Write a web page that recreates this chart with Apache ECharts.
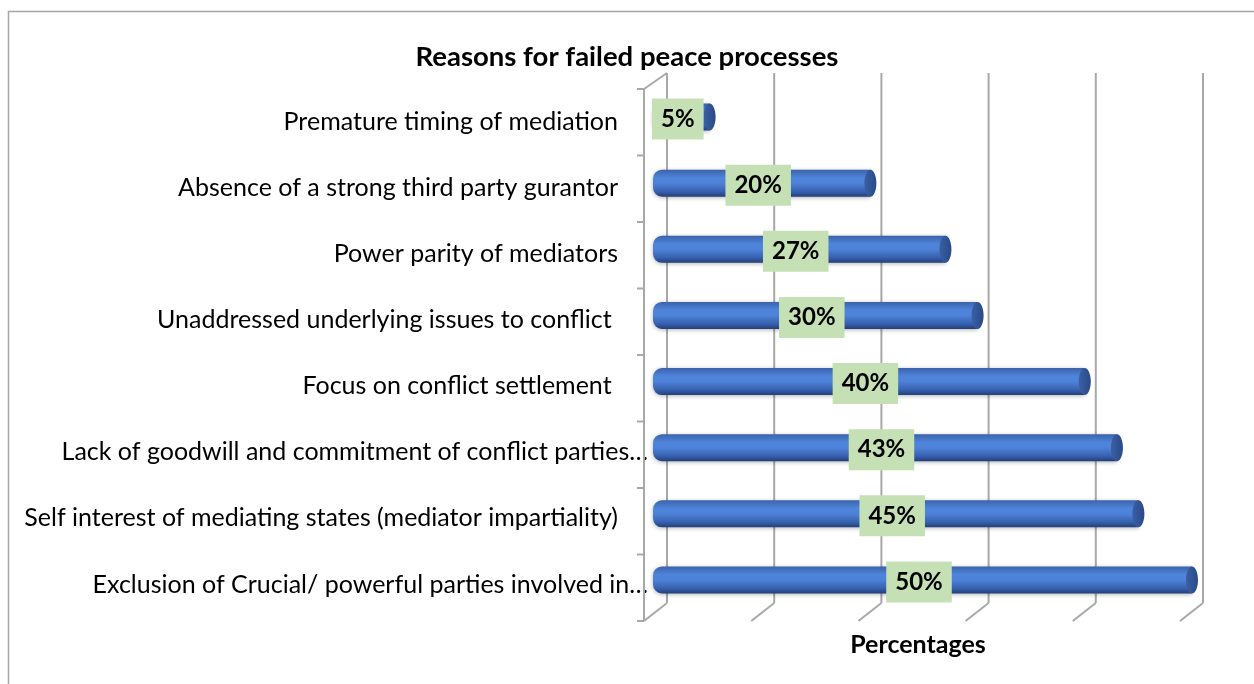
<!DOCTYPE html>
<html>
<head>
<meta charset="utf-8">
<script src="https://cdn.jsdelivr.net/npm/echarts@6/dist/echarts.min.js"></script>
<style>
html,body{margin:0;padding:0;background:#fff;}
#chart{width:1254px;height:684px;}
</style>
</head>
<body>
<div id="chart"></div>
<script>
const categories = [
  'Premature timing of mediation',
  'Absence of a strong third party gurantor',
  'Power parity of mediators',
  'Unaddressed underlying issues to conflict ',
  'Focus on conflict settlement ',
  'Lack of goodwill and commitment of conflict parties…',
  'Self interest of mediating states (mediator impartiality)',
  'Exclusion of Crucial/ powerful parties involved in…'
];
const values = [5, 20, 27, 30, 40, 43, 45, 50];
const gridTicks = [0, 10, 20, 30, 40, 50];
const titleText = 'Reasons for failed peace processes';
const xAxisName = 'Percentages';

const FONT = 'Lato';
const chart = echarts.init(document.getElementById('chart'), null, {renderer: 'canvas'});

const bodyGrad = () => new echarts.graphic.LinearGradient(0, 0, 0, 1, [
  {offset: 0, color: '#3b63ab'},
  {offset: 0.3, color: '#4e84da'},
  {offset: 0.5, color: '#4d82d8'},
  {offset: 0.8, color: '#3862b0'},
  {offset: 1, color: '#223f78'}
]);
const capGrad = () => new echarts.graphic.LinearGradient(0, 0, 1, 0, [
  {offset: 0, color: '#3a5fa3'},
  {offset: 1, color: '#2a4a88'}
]);

const option = {
  animation: false,
  backgroundColor: '#ffffff',
  title: {
    text: titleText,
    left: 'center',
    top: 38,
    padding: [5, 5, 5, 13],
    textStyle: {fontFamily: FONT, fontWeight: 'bold', fontSize: 27.5, color: '#000'}
  },
  grid: {left: 656, right: 62, top: 84, bottom: 71, containLabel: false},
  xAxis: {
    type: 'value', min: 0, max: 50, interval: 10,
    axisLabel: {show: false}, axisLine: {show: false}, axisTick: {show: false},
    splitLine: {show: false},
    name: xAxisName, nameLocation: 'middle', nameGap: 19,
    nameTextStyle: {fontFamily: FONT, fontWeight: 'bold', fontSize: 25, color: '#000', padding: [0, 12, 0, 0]}
  },
  yAxis: {
    type: 'category', inverse: true,
    data: categories,
    axisLine: {show: false}, axisTick: {show: false}, splitLine: {show: false},
    axisLabel: {
      margin: 8, fontFamily: FONT, fontSize: 25, color: '#000',
      formatter: v => (v.endsWith('…') ? '{t|' : '{n|') + v + '}',
      rich: {
        t: {fontFamily: FONT, fontSize: 25, color: '#000', padding: [9, 0, 0, 0]},
        n: {fontFamily: FONT, fontSize: 25, color: '#000', padding: [9, 30, 0, 0]}
      }
    }
  },
  series: [{
    type: 'custom',
    encode: {x: 0, y: 1},
    data: values.map((v, i) => [v, i]),
    renderItem: function (params, api) {
      const v = api.value(0), c = api.value(1);
      const p0 = api.coord([0, c]);
      const p1 = api.coord([v, c]);
      const bh = 27;
      const y = p0[1] - bh / 2;
      return {
        type: 'group',
        children: [
          {type: 'rect', shape: {x: p0[0] - 3, y: y, width: p1[0] - p0[0] + 3, height: bh, r: [9, 0, 0, 9]},
           style: {fill: bodyGrad(), shadowBlur: 4, shadowColor: 'rgba(0,0,0,0.3)', shadowOffsetY: 1}},
          {type: 'ellipse', shape: {cx: p1[0], cy: p0[1], rx: 6, ry: bh / 2},
           style: {fill: capGrad()}},
          {type: 'text', z2: 10,
           style: {text: v + '%', x: (p0[0] + p1[0]) / 2 - 5, y: p0[1] + 2,
                   align: 'center', verticalAlign: 'middle',
                   font: 'bold 24px ' + FONT, fill: '#000',
                   backgroundColor: '#c5e0b4', padding: [7, 9, 7, 9], lineHeight: 27}}
        ]
      };
    }
  }]
};
chart.setOption(option);

function drawFrame() {
  const n = categories.length;
  const xs = gridTicks.map(v => chart.convertToPixel({xAxisIndex: 0}, v));
  const yc0 = chart.convertToPixel({yAxisIndex: 0}, categories[0]);
  const yc1 = chart.convertToPixel({yAxisIndex: 0}, categories[n - 1]);
  const band = (yc1 - yc0) / (n - 1);
  const top = yc0 - band / 2, bottom = yc1 + band / 2;
  const bdx = 11, fdx = -12;
  const bTop = top - 11, bBot = bottom - 10;
  const fTop = top + 5, fBot = bottom + 8;
  const ls = {stroke: '#a8a8a8', lineWidth: 2};
  const g = [];
  g.push({type: 'rect', z: 0, shape: {x: 8.5, y: 11.5, width: 1400, height: 900},
          style: {fill: 'none', stroke: '#a6a6a6', lineWidth: 1.5}});
  xs.forEach((x) => {
    g.push({type: 'line', z: 1, shape: {x1: x + bdx, y1: bTop, x2: x + bdx, y2: bBot}, style: ls});
    g.push({type: 'line', z: 1, shape: {x1: x + bdx, y1: bBot, x2: x + fdx, y2: fBot}, style: ls});
  });
  g.push({type: 'line', z: 1, shape: {x1: xs[0] + fdx, y1: fTop, x2: xs[0] + fdx, y2: fBot}, style: ls});
  g.push({type: 'line', z: 1, shape: {x1: xs[0] + fdx, y1: fTop, x2: xs[0] + bdx, y2: bTop}, style: ls});
  for (let i = 0; i <= n; i++) {
    const yy = fTop + (fBot - fTop) * i / n;
    g.push({type: 'line', z: 1, shape: {x1: xs[0] + fdx - 7, y1: yy, x2: xs[0] + fdx, y2: yy}, style: ls});
  }
  chart.setOption({graphic: {elements: g}});
}
drawFrame();
</script>
</body>
</html>
